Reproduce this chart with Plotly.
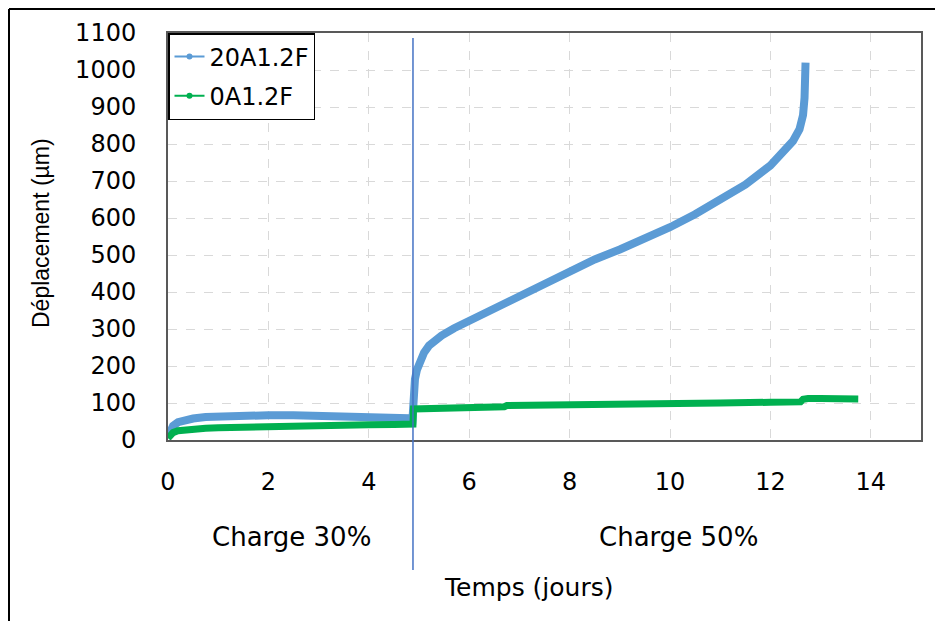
import plotly.graph_objects as go

# 20A1.2F (blue)
blue_x = [0, 0.05, 0.1, 0.2, 0.35, 0.5, 0.75, 1.0, 1.5, 2.0, 2.5, 3.0, 3.5, 4.0, 4.5, 4.8, 4.87,
          4.88, 4.89, 4.92, 4.96, 5.0, 5.1, 5.2, 5.3, 5.45, 5.7, 6.0, 6.5, 7.0, 7.5,
          8.0, 8.5, 9.0, 9.5, 10.0, 10.5, 11.0, 11.5, 12.0, 12.25, 12.45, 12.58, 12.65,
          12.68, 12.69, 12.7]
blue_y = [10, 25, 38, 48, 55, 58, 62, 64, 66, 67, 67, 66, 65, 63, 61, 59, 56,
          80, 130, 165, 190, 208, 236, 255, 268, 282, 302, 322, 358, 392, 427,
          460, 488, 515, 544, 575, 610, 648, 690, 742, 775, 808, 840, 878,
          925, 975, 1020]

# 0A1.2F (green)
green_x = [0, 0.05, 0.1, 0.2, 0.35, 0.5, 0.75, 1.0, 1.5, 2.0, 2.5, 3.0, 3.5, 4.0, 4.5, 4.88,
           4.89, 5.5, 5.7, 5.75, 6.5, 6.7, 6.75, 7.5, 8.0, 9.0, 10.0, 11.0, 12.0, 12.6, 12.65,
           12.75, 13.0, 13.5, 13.75]
green_y = [5, 14, 20, 25, 28, 30, 32, 33, 35, 37, 38, 39, 40, 41, 42, 43,
           84, 85, 86, 88, 89, 90, 93, 95, 96, 98, 99, 100, 102, 103, 110,
           112, 112, 111, 111]

x_ticks = [0, 2, 4, 6, 8, 10, 12, 14]
y_ticks = [0, 100, 200, 300, 400, 500, 600, 700, 800, 900, 1000, 1100]
load_change_day = 4.88

BLUE = "#5B9BD5"
GREEN = "#00B050"
FONT_H = "DejaVu Sans"

fig = go.Figure()
fig.add_trace(go.Scatter(x=blue_x, y=blue_y, mode="lines", line=dict(color=BLUE, width=8),
                         showlegend=False, hoverinfo="x+y"))
fig.add_trace(go.Scatter(x=green_x, y=green_y, mode="lines", line=dict(color=GREEN, width=7),
                         showlegend=False, hoverinfo="x+y"))
# legend entries
fig.add_trace(go.Scatter(x=[None], y=[None], mode="lines+markers", name="20A1.2F", legendgroup="a",
                         line=dict(color=BLUE, width=2), marker=dict(color=BLUE, size=6)))
fig.add_trace(go.Scatter(x=[None], y=[None], mode="lines+markers", name="0A1.2F", legendgroup="b",
                         line=dict(color=GREEN, width=2), marker=dict(color=GREEN, size=6)))

OFF = 8  # page body margin
W, H = 943, 621
# target screen positions of plot area
SL, SR, ST, SB = 168, 921, 33, 440
L = SL - OFF
T = ST - OFF
R = W - (SR - OFF)
B = H - (SB - OFF)
pw, ph = SR - SL, SB - ST

def px(xs):
    return (xs - SL) / pw

def py(ys):
    return (SB - ys) / ph

fig.update_layout(
    width=W, height=H,
    margin=dict(l=L, r=R, t=T, b=B),
    paper_bgcolor="white", plot_bgcolor="white",
    font=dict(family=FONT_H, size=24, color="black"),
    xaxis=dict(range=[0, 15], tickvals=x_ticks, showgrid=True, gridcolor="#D9D9D9",
               griddash="dash", gridwidth=1, showline=True, linecolor="#595959", linewidth=2,
               mirror=True, zeroline=False, ticks="", ticklabelstandoff=19,
               tickfont=dict(family=FONT_H, size=24)),
    yaxis=dict(range=[0, 1100], tickvals=y_ticks, showgrid=True, gridcolor="#D9D9D9",
               griddash="dash", gridwidth=1, showline=True, linecolor="#595959", linewidth=2,
               mirror=True, zeroline=False, ticks="", ticklabelstandoff=25,
               tickfont=dict(family=FONT_H, size=24)),
    legend=dict(x=0, y=1, xanchor="left", yanchor="top", bgcolor="white",
                bordercolor="black", borderwidth=1.5, font=dict(family=FONT_H, size=24),
                itemwidth=30, tracegroupgap=5),
    showlegend=True,
)

fig.add_shape(type="line", xref="x", yref="paper", x0=load_change_day, x1=load_change_day,
              y0=py(38), y1=py(570), line=dict(color="#4472C4", width=1.5))
# outer frame (as close to the page edge as the figure allows)
fig.add_shape(type="line", xref="paper", yref="paper", x0=px(9), x1=px(W + 20),
              y0=py(9), y1=py(9), line=dict(color="black", width=2))
fig.add_shape(type="line", xref="paper", yref="paper", x0=px(9), x1=px(9),
              y0=py(9), y1=py(H + 20), line=dict(color="black", width=2))

fig.add_annotation(text="Charge 30%", x=px(291), y=py(537), xref="paper", yref="paper",
                   showarrow=False, font=dict(family=FONT_H, size=26), xanchor="center", yanchor="middle")
fig.add_annotation(text="Charge 50%", x=px(678), y=py(537), xref="paper", yref="paper",
                   showarrow=False, font=dict(family=FONT_H, size=26), xanchor="center", yanchor="middle")
fig.add_annotation(text="Temps (jours)", x=px(529), y=py(587), xref="paper", yref="paper",
                   showarrow=False, font=dict(family=FONT_H, size=25), xanchor="center", yanchor="middle")
fig.add_annotation(text="Déplacement (µm)", x=px(41), y=py(233), xref="paper", yref="paper",
                   showarrow=False, textangle=-90,
                   font=dict(family="Liberation Sans", size=23),
                   xanchor="center", yanchor="middle")

fig.write_html("out.html")
